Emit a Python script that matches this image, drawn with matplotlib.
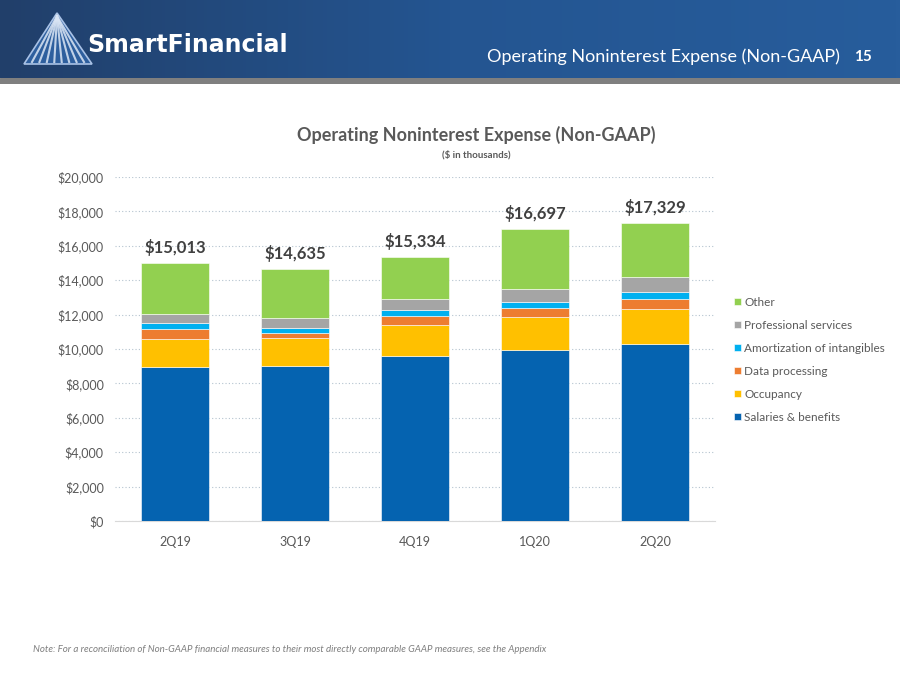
import numpy as np
import matplotlib
matplotlib.use("Agg")
import matplotlib.pyplot as plt
from matplotlib.patches import Polygon, Rectangle
from matplotlib.colors import LinearSegmentedColormap

plt.rcParams['font.family'] = ['Lato', 'DejaVu Sans']

# data ($ in thousands)
quarters = ['2Q19', '3Q19', '4Q19', '1Q20', '2Q20']
salaries = [8930, 9010, 9610, 9940, 10290]
occupancy = [1650, 1630, 1770, 1920, 2040]
data_processing = [580, 290, 540, 540, 560]
amortization = [370, 290, 330, 350, 410]
professional = [490, 600, 640, 720, 870]
other = [2990, 2815, 2444, 3490, 3159]
total_labels = ['$15,013', '$14,635', '$15,334', '$16,697', '$17,329']

series_names = ['Salaries & benefits', 'Occupancy', 'Data processing',
                'Amortization of intangibles', 'Professional services', 'Other']
series_vals = [salaries, occupancy, data_processing, amortization, professional, other]
colors = ['#0563B0', '#FFC000', '#ED7D31', '#00B0F0', '#A5A5A5', '#92D050']

fig = plt.figure(figsize=(9, 6.75), dpi=100)
fig.patch.set_facecolor('white')

# header band with gradient
hdr = fig.add_axes([0, 1 - 78 / 675, 1, 78 / 675])
grad = np.linspace(0, 1, 256).reshape(1, -1)
cm = LinearSegmentedColormap.from_list('hdr', ['#213f6a', '#245591', '#275d9c'])
hdr.imshow(grad, aspect='auto', cmap=cm, extent=[0, 900, 78, 0])
hdr.set_xlim(0, 900)
hdr.set_ylim(78, 0)
hdr.axis('off')

# logo triangle
hdr.add_patch(Polygon([[24, 64], [92, 64], [57, 13]], closed=True,
                      facecolor='#2e5f9e', edgecolor='#a9c2e6', lw=1.2))
for xb in np.linspace(32, 84, 8):
    hdr.plot([57, xb], [16, 62], color='#dbe6f5', lw=1.5, alpha=0.85)
hdr.text(87, 45, 'SmartFinancial', color='white', fontsize=17, fontweight='bold',
         family=['DejaVu Sans'], va='center', ha='left')
hdr.text(840, 57, 'Operating Noninterest Expense (Non-GAAP)', color='white',
         fontsize=13, va='center', ha='right')
hdr.text(854, 57, '15', color='white', fontsize=11, fontweight='bold',
         va='center', ha='left')

# grey band under header
band = fig.add_axes([0, 1 - 84 / 675, 1, 6 / 675])
band.add_patch(Rectangle((0, 0), 1, 1, color='#7f7f7f'))
band.axis('off')

# chart
ax = fig.add_axes([115 / 900, 1 - 521 / 675, 600 / 900, 344 / 675])
x = np.arange(len(quarters))
bottom = np.zeros(len(quarters))
for name, vals, c in zip(series_names, series_vals, colors):
    ax.bar(x, vals, width=0.57, bottom=bottom, color=c, label=name,
           edgecolor='white', linewidth=0.4, zorder=3)
    bottom += np.array(vals)

for xi, top, lab in zip(x, bottom, total_labels):
    ax.text(xi, top + 420, lab, ha='center', va='bottom', fontsize=12,
            fontweight='bold', color='#404040')

ax.set_xlim(-0.5, len(quarters) - 0.5)
ax.set_ylim(0, 20000)
ax.set_yticks(np.arange(0, 20001, 2000))
ax.set_yticklabels(['${:,.0f}'.format(v) for v in np.arange(0, 20001, 2000)])
ax.set_xticks(x)
ax.set_xticklabels(quarters)
ax.tick_params(axis='both', length=0, labelsize=9, colors='#595959', pad=8)
ax.tick_params(axis='x', pad=11)
ax.yaxis.grid(True, linestyle=(0, (1, 2)), color='#b4c3cf', linewidth=0.8, zorder=0)
for s in ['top', 'right', 'left']:
    ax.spines[s].set_visible(False)
ax.spines['bottom'].set_color('#d9d9d9')

handles, labels = ax.get_legend_handles_labels()
leg = fig.legend(handles[::-1], labels[::-1], loc='upper left',
                 bbox_to_anchor=(723 / 900, 1 - 286 / 675), frameon=False,
                 fontsize=8.5, handlelength=0.6, handleheight=0.6,
                 handletextpad=0.3, labelspacing=1.02, labelcolor='#595959')

fig.text(476 / 900, 1 - 135 / 675, 'Operating Noninterest Expense (Non-GAAP)',
         ha='center', va='center', fontsize=13, fontweight='bold', color='#595959')
fig.text(476 / 900, 1 - 155 / 675, '($ in thousands)', ha='center', va='center',
         fontsize=7, fontweight='bold', color='#595959')

fig.text(33 / 900, 1 - 650 / 675,
         'Note: For a reconciliation of Non-GAAP financial measures to their most directly '
         'comparable GAAP measures, see the Appendix',
         ha='left', va='center', fontsize=7, style='italic', color='#7f7f7f')

fig.savefig('out.png', dpi=100)
